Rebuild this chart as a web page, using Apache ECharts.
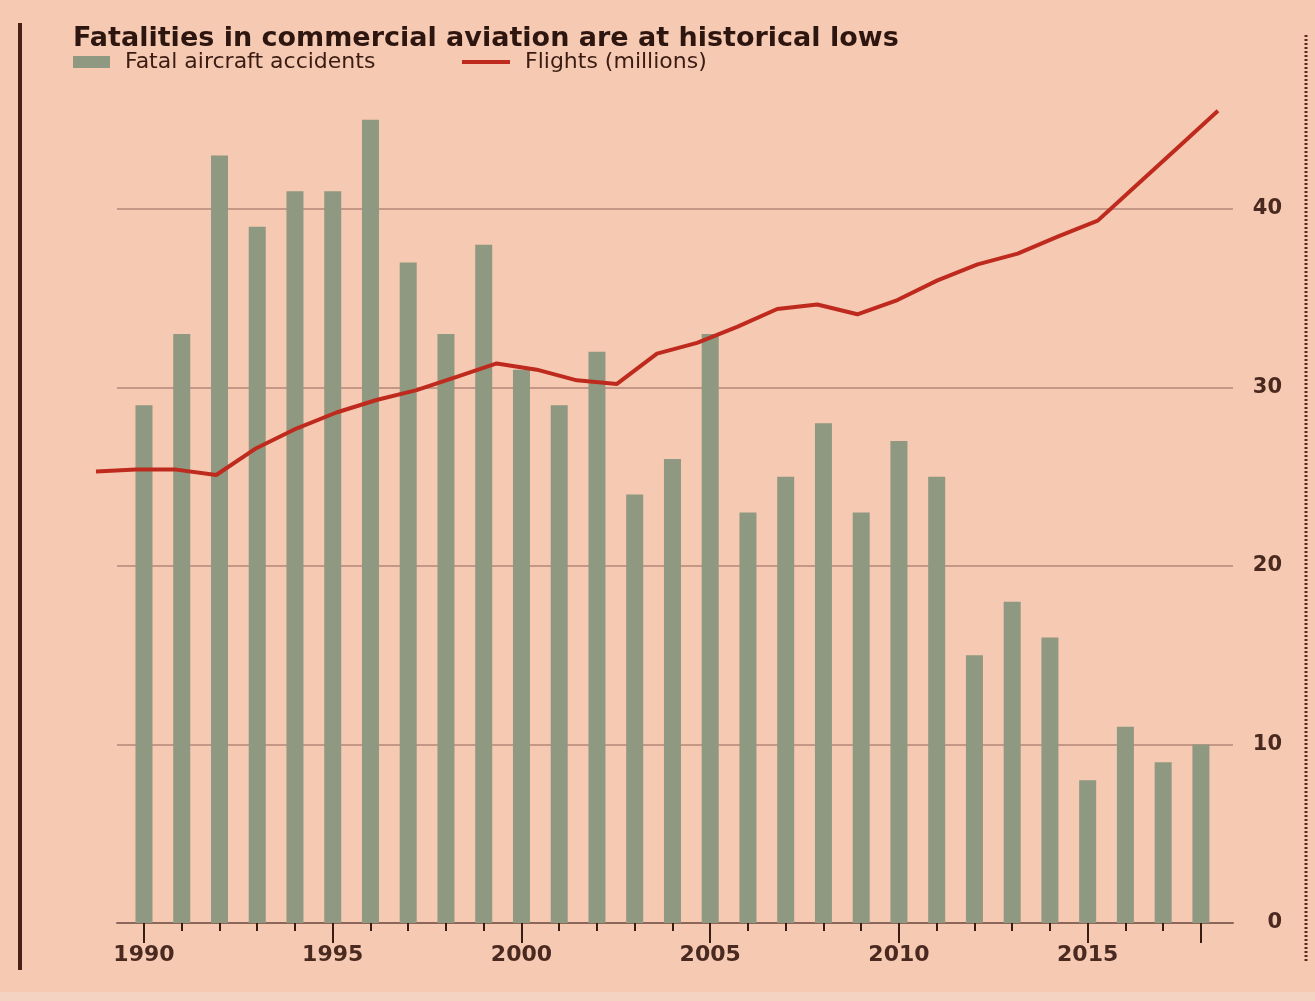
<!DOCTYPE html>
<html>
<head>
<meta charset="utf-8">
<title>Fatalities in commercial aviation</title>
<script src="https://cdn.jsdelivr.net/npm/echarts@6/dist/echarts.min.js"></script>
<style>
  html, body { margin: 0; padding: 0; background: #f6c9b2; }
  #chart { width: 1315px; height: 1001px; }
</style>
</head>
<body>
<div id="chart"></div>
<script>
// Years shown on the time axis
const years = [1990, 1991, 1992, 1993, 1994, 1995, 1996, 1997, 1998, 1999,
               2000, 2001, 2002, 2003, 2004, 2005, 2006, 2007, 2008, 2009,
               2010, 2011, 2012, 2013, 2014, 2015, 2016, 2017, 2018];
// Fatal aircraft accidents per year
const accidents = [29, 33, 43, 39, 41, 41, 45, 37, 33, 38,
                   31, 29, 32, 24, 26, 33, 23, 25, 28, 23,
                   27, 25, 15, 18, 16, 8, 11, 9, 10];
// Flights per year, millions
const flights = [25.3, 25.4, 25.4, 25.1, 26.6, 27.7, 28.6, 29.3, 29.85, 30.6,
                 31.35, 31.0, 30.4, 30.2, 31.9, 32.5, 33.4, 34.4, 34.65, 34.1,
                 34.9, 36.0, 36.9, 37.5, 38.45, 39.35, 41.4, 43.45, 45.5];
// Axis marks
const labelYears = [1990, 1995, 2000, 2005, 2010, 2015];
const majorTickYears = [1990, 1995, 2000, 2005, 2010, 2015, 2018];
const yTicks = [0, 10, 20, 30, 40];

const INK = '#3a1c13';
const FONT = 'DejaVu Sans';
const BAR = '#8f9880';
const RED = '#bf2a1e';
const GRIDLINE = '#b48677';

const chart = echarts.init(document.getElementById('chart'), null, { renderer: 'canvas' });

// The year axis runs a little past the first and last bars
const yearMin = 1989.285, yearMax = 2018.85;

chart.setOption({
  backgroundColor: '#f6c9b2',
  animation: false,
  title: {
    text: 'Fatalities in commercial aviation are at historical lows',
    left: 68, top: 20,
    textStyle: { fontFamily: FONT, fontSize: 27, fontWeight: 'bold', color: '#2e1610' }
  },
  legend: [
    {
      data: [{ name: 'Fatal aircraft accidents', icon: 'rect' }],
      left: 73, top: 51, padding: 0,
      itemWidth: 37, itemHeight: 12,
      textStyle: { fontFamily: FONT, fontSize: 22, color: INK, padding: [0, 0, 0, 10] }
    },
    {
      data: [{ name: 'Flights (millions)', icon: 'rect' }],
      left: 462, top: 51, padding: 0,
      itemWidth: 48, itemHeight: 4,
      textStyle: { fontFamily: FONT, fontSize: 22, color: INK, padding: [0, 0, 0, 10] }
    }
  ],
  graphic: [
    { type: 'rect', shape: { x: 0, y: 992, width: 1315, height: 9 }, style: { fill: '#f5d3c2' }, silent: true },
    { type: 'line', shape: { x1: 20, y1: 23, x2: 20, y2: 970 }, style: { stroke: '#4a2015', lineWidth: 4 }, silent: true },
    { type: 'line', shape: { x1: 1306, y1: 35, x2: 1306, y2: 962 }, style: { stroke: '#5a2a1c', lineWidth: 3, lineDash: [2, 2] }, silent: true }
  ],
  grid: [
    { left: 117, right: 82, top: 30.5, bottom: 78 },
    { left: 96, right: 97, top: 30.5, bottom: 78 }
  ],
  xAxis: [
    {
      gridIndex: 0, type: 'value', position: 'bottom', min: yearMin, max: yearMax,
      axisLine: { show: true, lineStyle: { color: '#8c6658', width: 2 } },
      axisTick: { show: true, customValues: years, length: 8, lineStyle: { color: INK, width: 2 } },
      axisLabel: { show: false },
      splitLine: { show: false }
    },
    {
      gridIndex: 0, type: 'value', position: 'bottom', min: yearMin, max: yearMax,
      axisLine: { show: false },
      axisTick: { show: true, customValues: majorTickYears, length: 20, lineStyle: { color: INK, width: 2 } },
      axisLabel: {
        show: true, customValues: labelYears, margin: 21,
        fontFamily: FONT, fontSize: 22, fontWeight: 'bold', color: '#4a2a20',
        formatter: v => String(v)
      },
      splitLine: { show: false }
    },
    {
      gridIndex: 1, type: 'category', data: years, boundaryGap: false, show: false
    }
  ],
  yAxis: [
    {
      gridIndex: 0, type: 'value', position: 'right', min: 0, max: 50, interval: 10,
      axisLine: { show: false },
      axisTick: { show: false },
      axisLabel: {
        align: 'right', margin: 49,
        customValues: yTicks,
        fontFamily: FONT, fontSize: 21, fontWeight: 'bold', color: '#4a2a20'
      },
      splitLine: {
        show: true, showMinLine: false, showMaxLine: false,
        lineStyle: { color: GRIDLINE, width: 1.5 }
      }
    },
    { gridIndex: 1, type: 'value', min: 0, max: 50, show: false }
  ],
  series: [
    {
      name: 'Fatal aircraft accidents',
      type: 'bar',
      xAxisIndex: 0, yAxisIndex: 0,
      barWidth: 17,
      itemStyle: { color: BAR },
      data: years.map((yr, i) => [yr, accidents[i]])
    },
    {
      name: 'Flights (millions)',
      type: 'line',
      xAxisIndex: 2, yAxisIndex: 1,
      symbol: 'none',
      lineStyle: { color: RED, width: 4 },
      itemStyle: { color: RED },
      data: flights
    }
  ]
});
</script>
</body>
</html>
